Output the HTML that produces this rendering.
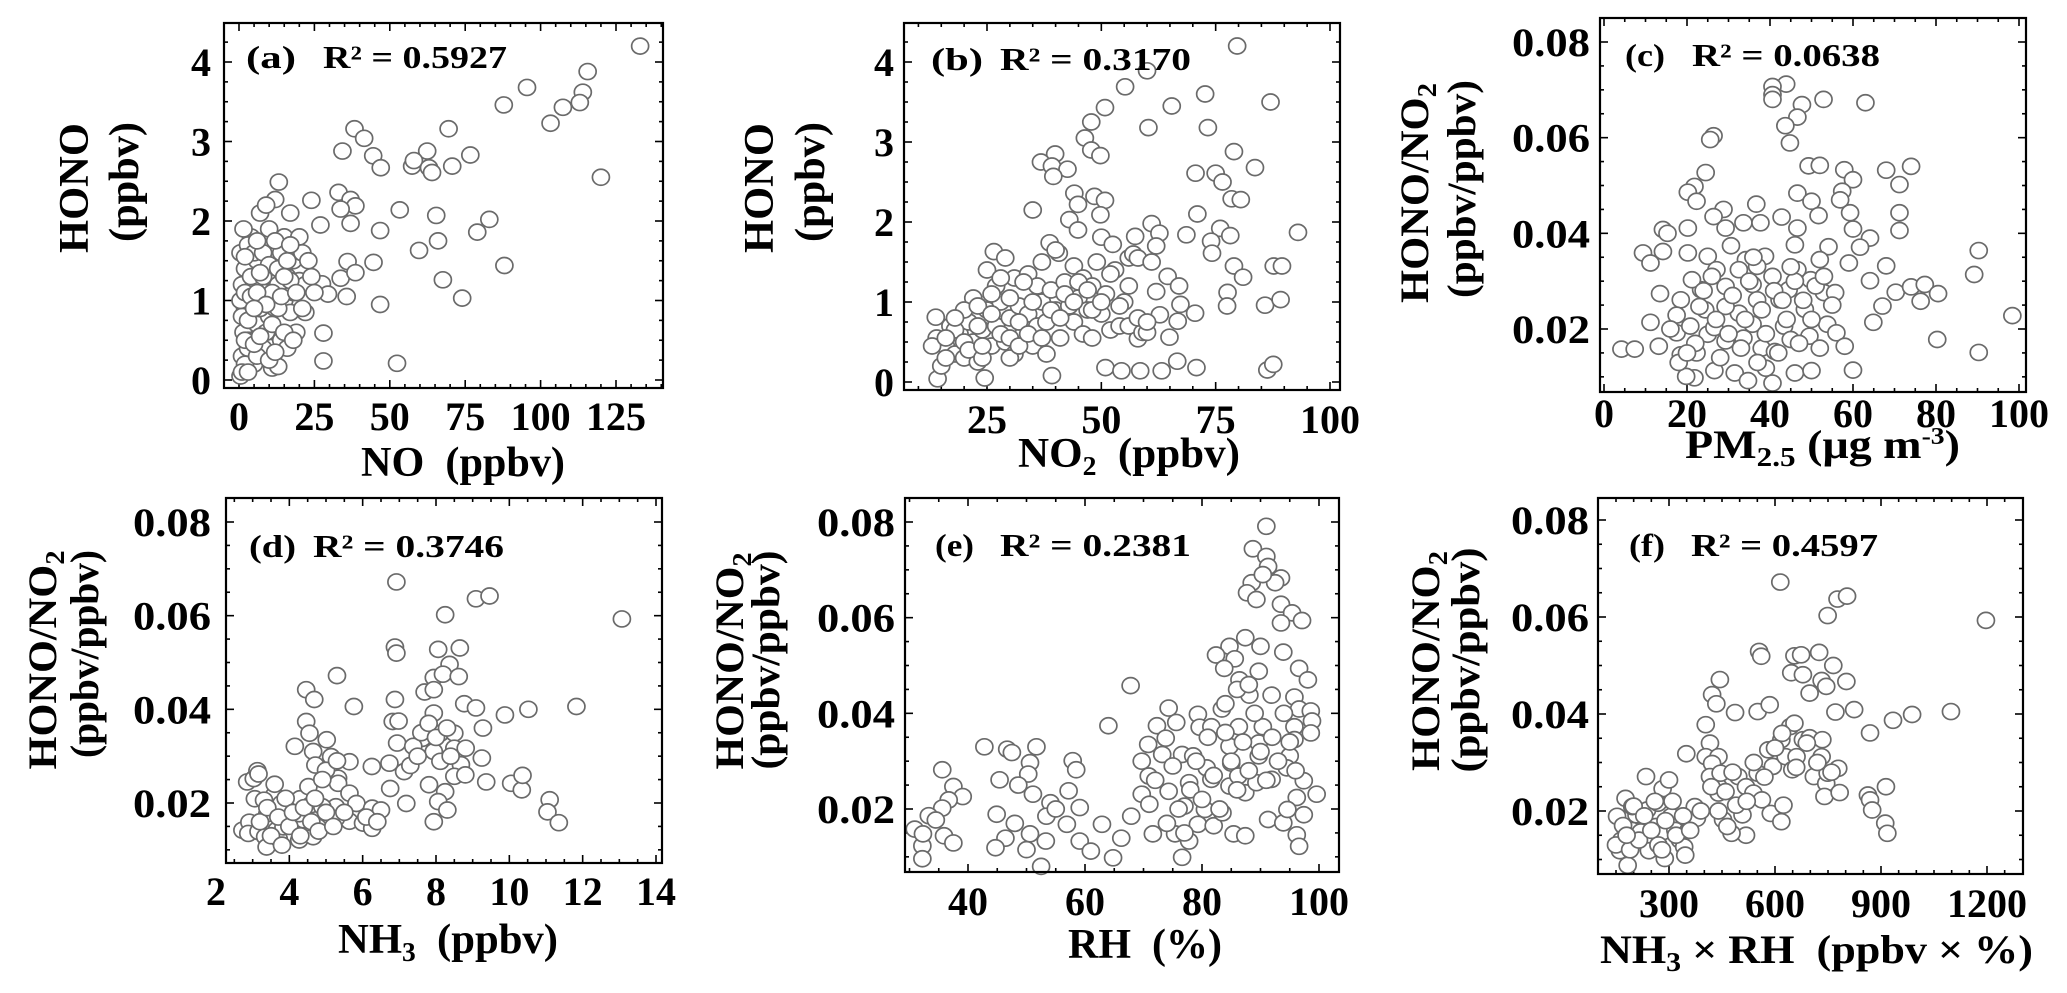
<!DOCTYPE html>
<html><head><meta charset="utf-8">
<style>
html,body{margin:0;padding:0;background:#fff;}
svg{display:block;}
text{font-family:"Liberation Serif","DejaVu Serif",serif;font-weight:bold;fill:#000;}
</style></head>
<body>
<svg id="chart" width="2067" height="993" viewBox="0 0 2067 993" xmlns="http://www.w3.org/2000/svg">
<rect x="0" y="0" width="2067" height="993" fill="#fff"/>
</svg>
<script>
// ---------- DATA ----------
const aNO=[133,115.6,95.5,87.8,114,113,107.4,103.3,120,38.3,41.5,69.5,34.3,44.5,47,62.4,57.4,58,63,64,70.7,76.7,13.2,12,24,33,37,38.6,33.7,53.3,65.4,83,37,46.8,79,59.7,66,44.6,88,36,33.7,38.6,67.6,46.8,35.7,74,28,28,52.4,27.5,29.5,27,17,
0.5,1,1.5,2,1,0.5,2,3,3,4,4,5,5,6,6,7,8,8,9,9,10,10,11,11,12,12,13,13,14,14,15,15,16,16,17,18,18,19,20,20,21,22,22,24,25,2,3,1,0.5,7,9,6,4,5,3,2,8,11,13,17,
1,2,3,4,5,6,7,8,9,10,11,12,13,14,15,16,17,19,21,23,1.5,3,5,7,10,12,15,18,6,2];
const aHONO=[4.2,3.88,3.68,3.46,3.62,3.49,3.43,3.23,2.55,3.16,3.04,3.16,2.88,2.82,2.67,2.88,2.69,2.76,2.67,2.61,2.69,2.83,2.49,2.27,2.26,2.36,2.27,2.19,2.15,2.14,2.07,2.02,1.97,1.88,1.86,1.63,1.75,1.48,1.44,1.49,1.28,1.35,1.26,0.95,1.05,1.03,0.59,0.24,0.21,1.21,1.08,1.95,2.1,
0.05,0.3,0.6,0.9,1.2,1.6,1.4,0.4,1.0,1.8,0.5,1.2,0.2,0.7,1.5,2.1,1.0,0.4,2.2,1.3,0.8,1.9,0.15,1.5,0.9,0.6,1.2,0.17,1.6,0.5,1.0,1.8,0.4,1.3,0.85,1.5,1.1,0.6,1.8,1.25,1.6,0.85,1.2,1.3,1.1,0.2,1.7,0.8,1.0,0.9,0.6,0.3,1.3,1.6,0.5,1.1,1.6,1.1,0.9,1.25,
0.1,0.5,0.75,1.05,0.45,1.1,0.55,1.3,0.95,1.45,0.7,1.75,1.4,1.05,0.6,1.5,1.7,1.1,0.9,1.5,1.9,0.1,0.9,1.35,0.25,0.35,1.3,0.5,1.75,1.55];

const bNO2=[79.7,60,55.2,72.7,87,50.8,65.4,47.8,60.3,73.3,46.4,47.8,49.8,79,39.9,36.8,39.2,42.6,39.5,70.6,75,83.6,76.5,78.5,80.5,44.1,44.9,48.5,50.8,35,43,44.9,49.8,71,61,76,93,68.6,78.2,57.4,62.7,50,38.7,52.5,74,74.2,40.7,26.5,56,79,81,87.7,89.5,64.5,67,62,77.6,77.5,85.8,89.2,67.3,70.5,62.8,66.7,64.9,58,50.9,54.4,58.5,63.2,66.6,70.8,86.3,87.6,39.2,24.5,14.2,13.8,
15,16,17,18,19,20,21,22,22,23,24,25,25,26,27,27,28,29,29,30,31,31,32,33,34,34,35,36,36,37,37,38,38,39,40,40,41,42,43,44,44,45,46,46,47,48,48,49,50,51,52,53,54,55,56,57,58,59,60,61,62,20,18,16,14,13,23,26,30,33,
16,18,20,21,23,24,26,28,28,30,30,32,32,34,35,37,39,41,42,44,45,47,48,50,52,54,56,58,60,24];
const bHONO=[4.2,3.89,3.69,3.6,3.5,3.43,3.45,3.25,3.18,3.18,3.05,2.9,2.83,2.88,2.85,2.75,2.7,2.66,2.57,2.61,2.61,2.68,2.5,2.29,2.28,2.36,2.22,2.32,2.27,2.15,2.03,1.9,2.09,2.1,1.98,1.92,1.87,1.84,1.83,1.82,1.86,1.81,1.74,1.72,1.76,1.61,1.61,1.63,1.55,1.45,1.31,1.45,1.45,1.32,1.2,1.13,1.12,0.95,0.96,1.03,0.97,0.86,0.84,0.76,0.56,0.54,0.18,0.14,0.14,0.14,0.26,0.18,0.15,0.22,0.08,0.05,0.04,0.81,
0.2,0.45,0.7,0.35,0.6,0.3,0.75,0.5,1.05,0.25,0.65,0.9,1.4,0.45,0.7,1.2,1.0,0.5,1.55,0.8,1.3,0.35,0.95,0.6,1.35,0.85,0.45,1.2,0.7,1.0,1.5,0.35,0.75,1.15,1.65,0.9,0.55,1.25,0.95,1.45,0.75,1.05,0.6,1.3,0.9,1.2,0.55,1.5,0.85,1.1,0.65,1.4,0.7,1.0,0.7,1.6,1.55,0.62,0.62,1.5,1.7,0.9,0.65,0.3,0.55,0.45,0.95,1.1,0.3,1.25,
0.55,0.8,0.5,0.4,0.7,0.3,0.85,0.6,1.3,0.55,1.05,0.45,0.75,0.6,1.0,0.55,0.9,0.8,1.1,1.0,1.25,1.15,0.9,1.0,1.35,0.95,1.2,0.8,0.75,0.45];

const cPM=[43.9,40.6,40.6,40.6,52.9,63,47.7,46.6,43.7,44.8,26.4,25.6,24.5,49.3,52,57.9,68,74,60,71.2,21.8,20.2,22.3,46.6,50,57.4,56.9,36.7,28.8,59.3,71.2,71.2,42.8,51.7,26.4,14.2,15.3,20.2,29.3,33.6,37.7,46.6,60,64.1,9.4,11.2,14.2,20.2,25,30.6,34.2,38.8,46,54.1,61.7,59,68,64.1,89.2,90.3,13.5,18.5,23.4,29.3,35.8,40.6,44.5,49.8,53,55.7,70.3,74,77.3,80.5,76.3,67.1,64.9,98.4,80.3,90.3,4.2,7.4,11.2,13.2,17.5,20.8,22.3,21.8,25,26.6,26.6,29.3,31.5,32.5,34.7,35.8,38,39,40.6,41.2,43.4,45,46,48.4,49.5,50,53.8,56,58,60,18.5,19.8,17.5,33.6,36.9,42.3,29.3,24.4,21.2,27.1,32.5,36.9,46.6,52,23,
18,22,24,27,28,30,31,33,34,35,37,38,39,41,42,43,44,46,47,48,50,51,52,55,16,20,26,36,45,53];
const cRatio=[.0712,.0707,.069,.068,.068,.0673,.0669,.0643,.0625,.0589,.0604,.0596,.0527,.0541,.0542,.0533,.0532,.054,.0512,.0502,.0498,.0486,.0467,.0484,.0467,.0488,.047,.0461,.045,.0443,.0443,.0406,.0434,.0437,.0435,.0408,.04,.0411,.0411,.0422,.0422,.0411,.0409,.039,.0359,.0338,.0362,.0359,.0352,.0374,.0345,.0352,.0376,.0372,.0371,.0338,.0332,.0301,.0314,.0364,.0274,.0261,.0282,.0289,.0293,.031,.0282,.0303,.0276,.0276,.0277,.0288,.0293,.0274,.0258,.0248,.0214,.0228,.0178,.0151,.0158,.0158,.0214,.0164,.0192,.0206,.015,.0098,.0189,.0203,.0113,.0175,.0108,.0233,.0092,.021,.016,.0118,.0087,.0153,.0206,.0178,.0108,.0241,.0185,.0113,.021,.0192,.0164,.0114,.0146,.0101,.0229,.0181,.0261,.0261,.0247,.024,.0303,.0324,.0324,.0331,.0324,.0345,.0247,
.013,.017,.028,.022,.014,.019,.027,.016,.022,.03,.013,.024,.019,.028,.015,.026,.022,.03,.017,.026,.022,.029,.016,.025,.02,.015,.031,.035,.033,.031];

const dNH3=[6.92,9.09,9.46,8.25,13.07,6.88,6.92,8.06,8.65,8.37,7.94,8.19,8.62,7.69,7.94,5.3,4.46,4.68,5.76,6.88,6.82,6.98,8.77,9.09,9.88,10.52,11.83,9.28,7.94,7.63,8.12,8.5,4.46,4.55,4.15,5.02,4.65,4.71,5.14,5.64,5.33,6.94,7.38,7.94,8.5,8.81,9.25,6.73,7.13,8.12,8.68,8.5,6.25,6.75,7.19,7.81,8.25,8.06,8.31,7.94,9.37,10.05,10.34,10.36,11.1,11.04,11.35,5.33,5.64,5.83,5.64,6.01,6.26,6.5,6.26,5.27,5.27,
2.72,2.91,2.85,3.03,3.13,3.16,3.06,2.88,3.16,3.34,3.38,3.4,3.59,3.65,3.71,3.84,3.9,3.96,4.27,4.29,4.39,4.52,4.58,4.65,4.77,4.9,4.27,3.31,3.78,
3.2,3.4,3.5,3.6,3.7,3.8,3.9,4.0,4.1,4.3,4.4,4.6,4.7,4.8,5.0,5.2,5.5,6.1,6.4,7.6,7.8,8.0,8.3,8.4,7.3,7.5,8.8,5.0,5.3,4.9];
const dRatio=[.0672,.0636,.0642,.0602,.0593,.0533,.052,.0528,.0531,.0496,.0468,.0475,.047,.0437,.0442,.0472,.0442,.0421,.0406,.0421,.0374,.0375,.0412,.0403,.0388,.04,.0406,.036,.0392,.0338,.0349,.0349,.0374,.0349,.0321,.0335,.031,.0281,.0299,.0288,.0253,.0328,.0321,.031,.0317,.0317,.0296,.0285,.0267,.0289,.0282,.0257,.0278,.0231,.0199,.0239,.0224,.0203,.0185,.016,.0245,.0242,.0228,.0259,.0207,.0181,.0158,.0242,.0221,.0199,.0161,.0157,.0189,.0185,.0146,.0192,.0167,
.0142,.0159,.0245,.0252,.0269,.0262,.0209,.0135,.0139,.0128,.0106,.0177,.0217,.0142,.0124,.0149,.0203,.0177,.0121,.0209,.0164,.0235,.0196,.0128,.0149,.0192,.0177,.0206,.0199,
.016,.019,.013,.024,.017,.011,.021,.015,.018,.013,.019,.016,.021,.014,.018,.015,.018,.017,.016,.035,.037,.034,.036,.030,.028,.030,.026,.027,.029,.025];

const eRH=[91,88.7,91,91.3,93.5,88.5,92.5,90.4,87.7,89.3,93.5,95.4,97.1,93.5,87.4,90,84.7,82.4,85.6,93.9,83.8,89.7,96.6,98.1,67.8,86.4,88.1,91.9,95.8,74.3,83.4,79.3,96.6,98.6,98.8,75.6,72.3,64,79.6,81.6,86.3,90.4,95.8,98.6,73.8,70.8,84.7,89.7,95.8,42.8,46.7,51.7,47.5,50.6,57.9,58.5,35.6,50.3,69.7,73.2,76.6,78.5,80.8,85,89.7,95,94.5,45.4,48.6,37.5,39.1,36.7,35.6,33.3,34.5,30.9,32.2,32.3,35.9,37.5,32.2,51.1,54.1,57.2,59.1,53.4,56.9,44.9,46.4,44.7,50.6,52.5,50,53.3,59.1,61,62.9,64.8,66.2,67.9,69.7,71.6,70.9,75.4,76.6,77,77.8,79.3,80.5,82,83.5,85.4,87.4,84.7,87.4,89.3,91.3,93.9,96.2,96.6,97.4,99.6,97.4,96.2,74.3,77.8,81.6,86.2,91.9,94.6,
71,72,74,75,76,77,78,79,80,81,82,83,84,85,86,87,88,89,90,91,92,93,94,95,96,86,84,88,48,55];
const eRatio=[.0791,.0744,.0728,.0707,.0683,.0673,.0673,.069,.0652,.0638,.0628,.061,.0594,.0589,.0558,.054,.054,.0522,.0514,.0528,.0494,.0488,.0494,.047,.0458,.047,.0438,.0438,.0434,.0411,.0409,.0398,.0409,.0405,.0384,.0381,.0374,.0374,.0371,.0372,.0372,.0372,.0372,.0359,.0348,.0335,.0331,.0338,.0345,.033,.0325,.033,.0318,.0297,.0301,.0282,.0282,.0273,.03,.0314,.0314,.0311,.0286,.0296,.0311,.0311,.0286,.0261,.025,.0247,.0226,.0219,.0202,.0186,.0177,.0158,.0123,.0148,.0144,.0129,.0096,.0231,.0213,.0238,.0203,.0185,.0168,.0189,.0139,.0119,.0148,.008,.0115,.0133,.0133,.0112,.0168,.0098,.0139,.0185,.0231,.0148,.0269,.0148,.0099,.0206,.0133,.0168,.0199,.0165,.0192,.0148,.0144,.0248,.0234,.0255,.0178,.0171,.0146,.0122,.0188,.0231,.0259,.0224,.0237,.0255,.0262,.0269,.0262,.0199,
.021,.026,.017,.029,.02,.015,.024,.03,.022,.035,.027,.02,.036,.03,.024,.034,.028,.04,.032,.026,.035,.03,.04,.034,.028,.045,.042,.046,.017,.02];

const fProd=[615,777,804,749,1197,555,561,655,674,725,765,646,679,732,802,745,698,444,422,434,487,551,585,771,824,988,1098,934,869,404,416,349,404,440,422,416,440,446,496,518,551,581,594,618,643,655,679,698,734,630,649,661,710,732,745,749,779,740,783,863,869,875,914,912,918,539,563,588,618,624,508,518,477,453,440,465,490,
153,165,177,161,183,196,208,220,235,238,243,263,282,282,288,300,306,318,331,343,346,355,373,379,269,196,
150,170,190,200,215,230,250,260,270,290,310,320,340,360,390,420,440,460,480,520,540,570,600,620,660,690,720,760,180,280];
const fRatio=[.0672,.0637,.0643,.0603,.0593,.0529,.0519,.052,.0522,.0527,.05,.0485,.0481,.0469,.0467,.0457,.0443,.0471,.044,.0421,.0403,.0405,.0419,.0404,.0409,.0399,.0405,.0387,.0361,.0378,.034,.0318,.0312,.0312,.0298,.0271,.025,.0278,.0271,.025,.0278,.0326,.0292,.0347,.0374,.0381,.0347,.0351,.0347,.0312,.0285,.0312,.0271,.0312,.0257,.0278,.0288,.023,.0238,.0233,.0223,.0202,.025,.0175,.0154,.0237,.0223,.0195,.0178,.0212,.0192,.015,.0154,.0182,.0237,.0168,.0212,
.0189,.014,.0226,.0118,.0088,.016,.0192,.0157,.0271,.0202,.0118,.0168,.0246,.0157,.0102,.0264,.0189,.016,.014,.0126,.0109,.016,.0209,.0185,.0216,.0209,
.013,.017,.012,.021,.014,.019,.016,.022,.013,.018,.022,.015,.019,.016,.02,.025,.02,.024,.028,.022,.03,.027,.033,.036,.029,.034,.03,.028,.015,.012];

const aTicksX=[0,25,50,75,100,125], aTicksY=[0,1,2,3,4];
const bTicksX=[25,50,75,100], bTicksY=[0,1,2,3,4];
const cTicksX=[0,20,40,60,80,100], ratioTicksY=[0.02,0.04,0.06,0.08];
const dTicksX=[2,4,6,8,10,12,14];
const eTicksX=[40,60,80,100];
const fTicksX=[300,600,900,1200];

// ---------- LAYOUT ----------
const NS='http://www.w3.org/2000/svg';
const svg=document.getElementById('chart');
function mk(tag,attrs,parent){const e=document.createElementNS(NS,tag);for(const k in attrs)e.setAttribute(k,attrs[k]);(parent||svg).appendChild(e);return e;}
function lin(d0,d1,p0,p1){return v=>p0+(v-d0)*(p1-p0)/(d1-d0);}
function labW(s){let w=0;for(const ch of s)w+=(ch==='.')?10:20;return w;}

const panels=[
 {id:'a',box:[224,663,23,388],sx:lin(0,125,239,616),sy:lin(0,4,380,62),xs:aNO,ys:aHONO,tx:aTicksX,ty:aTicksY,mx:5,my:0.25,fy:v=>String(v),xlb:430,ylr:211,
  lab:[246,296,323,507,68],txt:'0.5927'},
 {id:'b',box:[904,1340,23,390],sx:lin(25,100,987,1330),sy:lin(0,4,382,62),xs:bNO2,ys:bHONO,tx:bTicksX,ty:bTicksY,mx:5,my:0.25,fy:v=>String(v),xlb:433,ylr:894,
  lab:[931,983,1000,1191,70],txt:'0.3170'},
 {id:'c',box:[1600,2026,18,392],sx:lin(0,100,1604,2019),sy:lin(0.02,0.08,329,42),xs:cPM,ys:cRatio,tx:cTicksX,ty:ratioTicksY,mx:5,my:0.005,fy:v=>v.toFixed(2),xlb:427,ylr:1590,
  lab:[1625,1665,1692,1880,66],txt:'0.0638'},
 {id:'d',box:[226,662,498,863],sx:lin(2,14,216,656),sy:lin(0.02,0.08,803,522),xs:dNH3,ys:dRatio,tx:dTicksX,ty:ratioTicksY,mx:0.5,my:0.005,fy:v=>v.toFixed(2),xlb:905,ylr:211,
  lab:[249,296,313,504,557],txt:'0.3746'},
 {id:'e',box:[905,1339,498,872],sx:lin(40,100,968,1319),sy:lin(0.02,0.08,809,522),xs:eRH,ys:eRatio,tx:eTicksX,ty:ratioTicksY,mx:5,my:0.005,fy:v=>v.toFixed(2),xlb:915,ylr:895,
  lab:[935,974,1000,1191,556],txt:'0.2381'},
 {id:'f',box:[1598,2023,498,874],sx:lin(300,1200,1669,1987),sy:lin(0.02,0.08,811,520),xs:fProd,ys:fRatio,tx:fTicksX,ty:ratioTicksY,mx:50,my:0.005,fy:v=>v.toFixed(2),xlb:917,ylr:1589,
  lab:[1629,1665,1691,1878,556],txt:'0.4597'}
];

panels.forEach(p=>{
  const g=mk('g',{});
  
  
  const [L,R,T,B]=p.box;
  const tg=mk('g',{stroke:'#000','stroke-width':1.6},g);
  
  
  const xmin=p.tx[0]-20*p.mx, xmax=p.tx[p.tx.length-1]+20*p.mx;
  for(let i=Math.round(xmin/p.mx);i*p.mx<=xmax;i++){
    const v=i*p.mx, x=p.sx(v); if(x<L+1||x>R-1) continue;
    const major=p.tx.some(t=>Math.abs(t-v)<1e-9), len=major?8:4;
    mk('line',{x1:x,x2:x,y1:B,y2:B-len},tg); mk('line',{x1:x,x2:x,y1:T,y2:T+len},tg);
  }
  const ymin=p.ty[0]-20*p.my, ymax=p.ty[p.ty.length-1]+20*p.my;
  for(let i=Math.round(ymin/p.my);i*p.my<=ymax+1e-9;i++){
    const v=i*p.my, y=p.sy(v); if(y<T+1||y>B-1) continue;
    const major=p.ty.some(t=>Math.abs(t-v)<1e-9), len=major?8:4;
    mk('line',{x1:L,x2:L+len,y1:y,y2:y},tg); mk('line',{x1:R,x2:R-len,y1:y,y2:y},tg);
  }
  p.tx.forEach(v=>{const s=String(v);const t=mk('text',{x:p.sx(v),y:p.xlb,'text-anchor':'middle','font-size':40,textLength:labW(s),lengthAdjust:'spacingAndGlyphs'},g);t.textContent=s;
    
    });
  p.ty.forEach(v=>{const s=p.fy(v);const t=mk('text',{x:p.ylr,y:p.sy(v)+14,'text-anchor':'end','font-size':40,textLength:(s.length>2?78:labW(s)),lengthAdjust:'spacingAndGlyphs'},g);t.textContent=s;
    
    });
  const pg=mk('g',{fill:'#fff',stroke:'#6a6a6a','stroke-width':1.7},g);
  
  
  p.xs.forEach((xv,i)=>{
    const c=mk('ellipse',{cx:p.sx(xv),cy:p.sy(p.ys[i]),rx:8.5,ry:8},pg);
    
    
  });
  const fr=mk('rect',{x:L,y:T,width:R-L,height:B-T,fill:'none',stroke:'#000','stroke-width':2.2},g);
  
  
  const [x0,x1,x2,x3,by]=p.lab;
  const l1=mk('text',{x:x0,y:by,'font-size':32,textLength:x1-x0,lengthAdjust:'spacingAndGlyphs'},g);
  l1.textContent='('+p.id+')';
  
  
  const l2=mk('text',{x:x2,y:by,'font-size':32,textLength:x3-x2,lengthAdjust:'spacingAndGlyphs'},g);
  l2.textContent='R\u00B2 = '+p.txt;
  
  
});

function ytitle(name,bx,cy,len,content,size){
  const t=mk('text',{transform:`translate(${bx},${cy}) rotate(-90)`,'text-anchor':'middle','font-size':size||40,textLength:len,lengthAdjust:'spacingAndGlyphs'});
  t.innerHTML=content;
  
  
}
function xtitle(name,x0,x1,by,content,size){
  const t=mk('text',{x:x0,y:by,'font-size':size||40,textLength:x1-x0,lengthAdjust:'spacingAndGlyphs'});
  t.innerHTML=content;
  
  
}
const sub2='<tspan font-size="27" dy="8">2</tspan>';
ytitle('y-axis-title-a-line1',88,188,130,'HONO',42);
ytitle('y-axis-title-a-line2',138,182,120,'(ppbv)',42);
ytitle('y-axis-title-b-line1',773,188,130,'HONO',42);
ytitle('y-axis-title-b-line2',824,182,120,'(ppbv)',42);
ytitle('y-axis-title-c-line1',1428,193,220,'HONO/NO'+sub2,40);
ytitle('y-axis-title-c-line2',1475,189,218,'(ppbv/ppbv)',40);
ytitle('y-axis-title-d-line1',56,660,219,'HONO/NO'+sub2,40);
ytitle('y-axis-title-d-line2',98,654,208,'(ppbv/ppbv)',40);
ytitle('y-axis-title-e-line1',743,661,217,'HONO/NO'+sub2,40);
ytitle('y-axis-title-e-line2',779,660,219,'(ppbv/ppbv)',40);
ytitle('y-axis-title-f-line1',1439,661,220,'HONO/NO'+sub2,40);
ytitle('y-axis-title-f-line2',1479,660,225,'(ppbv/ppbv)',40);

xtitle('x-axis-title-a',361,565,476,'NO&#160; (ppbv)',42);
xtitle('x-axis-title-b',1018,1240,467,'NO'+sub2+'<tspan dy="-8">&#160; (ppbv)</tspan>',42);
xtitle('x-axis-title-c',1685,1960,458,'PM<tspan font-size="27" dy="8">2.5</tspan><tspan dy="-8"> (μg m</tspan><tspan font-size="24" dy="-14">-3</tspan><tspan dy="14">)</tspan>',40);
xtitle('x-axis-title-d',338,558,953,'NH'+'<tspan font-size="27" dy="8">3</tspan><tspan dy="-8">&#160; (ppbv)</tspan>',42);
xtitle('x-axis-title-e',1068,1222,958,'RH&#160; (%)',42);
xtitle('x-axis-title-f',1600,2033,963,'NH<tspan font-size="27" dy="8">3</tspan><tspan dy="-8"> × RH&#160; (ppbv × %)</tspan>',40);
</script>
</body></html>
